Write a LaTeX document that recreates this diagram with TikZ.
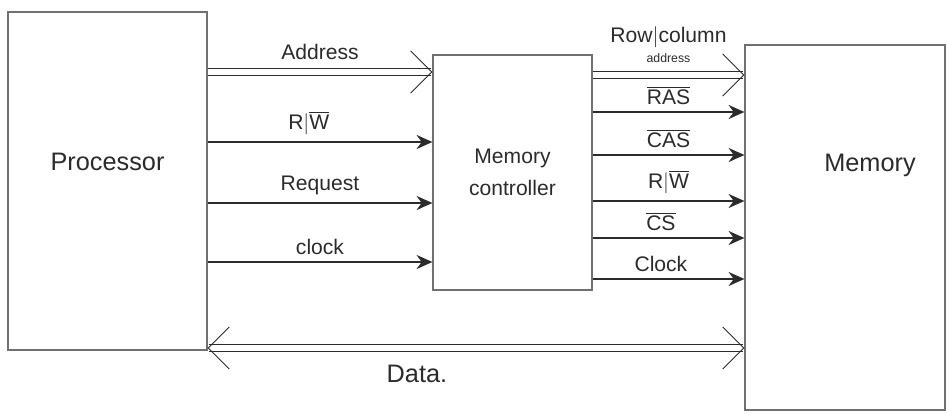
\documentclass[tikz,border=0pt]{standalone}
\usepackage{fontspec}
\setmainfont{Liberation Sans}
\usetikzlibrary{positioning,arrows.meta,calc}
\definecolor{memInk}{HTML}{2B2B2B}
\definecolor{memEdge}{HTML}{707070}
\tikzset{
  unit/.style 2 args={
    draw=memEdge, line width=0.7pt, minimum width=#1, minimum height=#2,
    inner sep=0pt},
  sig/.style={draw=memInk, line width=0.7pt, -{Stealth[length=9pt,width=8pt]}},
  barb/.tip={Straight Barb[length=12pt,width=24pt]},
  bus/.style={draw=memInk, line width=0.5pt, double, double distance=3.5pt,
              -barb},
  lab/.style={font=\large, text=memInk, above=3pt, inner sep=1pt},
  buslab/.style={lab, above=6pt},
}
\newcommand{\notsig}[1]{$\overline{\mbox{#1}}$}

\begin{document}
\begin{tikzpicture}
\useasboundingbox (0,0) rectangle (18.98,-8.28);

% ---- the three units
\node[unit={3.98cm}{6.76cm}] (proc) at (2.15,-3.62) {};
\node[font=\Large, text=memInk] (procname) at ($(proc.center)+(0,0.38)$) {Processor};

\node[unit={3.18cm}{4.7cm}, align=center, font=\large, text=memInk] (mc)
  at (10.25,-3.45) {Memory\\[4pt]controller};

\node[unit={4.0cm}{7.3cm}] (mem) at (16.9,-4.55) {};
\node[font=\Large, text=memInk] (memname) at ($(mem.center)+(0.5,1.25)$) {Memory};

% ---- signal rows, processor side
\coordinate (rAddr) at (0,-1.44);
\coordinate (rRW)   at (0,-2.84);
\coordinate (rReq)  at (0,-4.06);
\coordinate (rClk)  at (0,-5.24);

% ---- signal rows, memory side
\coordinate (rRC)   at (0,-1.5);
\coordinate (rRAS)  at (0,-2.24);
\coordinate (rCAS)  at (0,-3.1);
\coordinate (rRW2)  at (0,-4.02);
\coordinate (rCS)   at (0,-4.76);
\coordinate (rClk2) at (0,-5.58);
\coordinate (rData) at (0,-6.96);

% ---- processor -> controller
\draw[bus] (proc.east |- rAddr) -- node[buslab] {Address} (mc.west |- rAddr);
\draw[sig] (proc.east |- rRW)   -- node[lab, pos=0.45] {R$|$\notsig{W}} (mc.west |- rRW);
\draw[sig] (proc.east |- rReq)  -- node[lab] {Request} (mc.west |- rReq);
\draw[sig] (proc.east |- rClk)  -- node[lab] {clock} (mc.west |- rClk);

% ---- controller -> memory
\draw[bus] (mc.east |- rRC) -- node[buslab, align=center]
  {Row$|$column\\[-3pt]{\scriptsize address}} (mem.west |- rRC);
\draw[sig] (mc.east |- rRAS)  -- node[lab] {\notsig{RAS}} (mem.west |- rRAS);
\draw[sig] (mc.east |- rCAS)  -- node[lab] {\notsig{CAS}} (mem.west |- rCAS);
\draw[sig] (mc.east |- rRW2)  -- node[lab] {R$|$\notsig{W}} (mem.west |- rRW2);
\draw[sig] (mc.east |- rCS)   -- node[lab, pos=0.45] {\notsig{CS}} (mem.west |- rCS);
\draw[sig] (mc.east |- rClk2) -- node[lab, pos=0.45] {Clock} (mem.west |- rClk2);

% ---- shared data bus
\draw[bus, barb-barb]
  (proc.east |- rData) -- node[lab, font=\Large, below=0.3cm, pos=0.39] {Data.} (mem.west |- rData);

\end{tikzpicture}
\end{document}
